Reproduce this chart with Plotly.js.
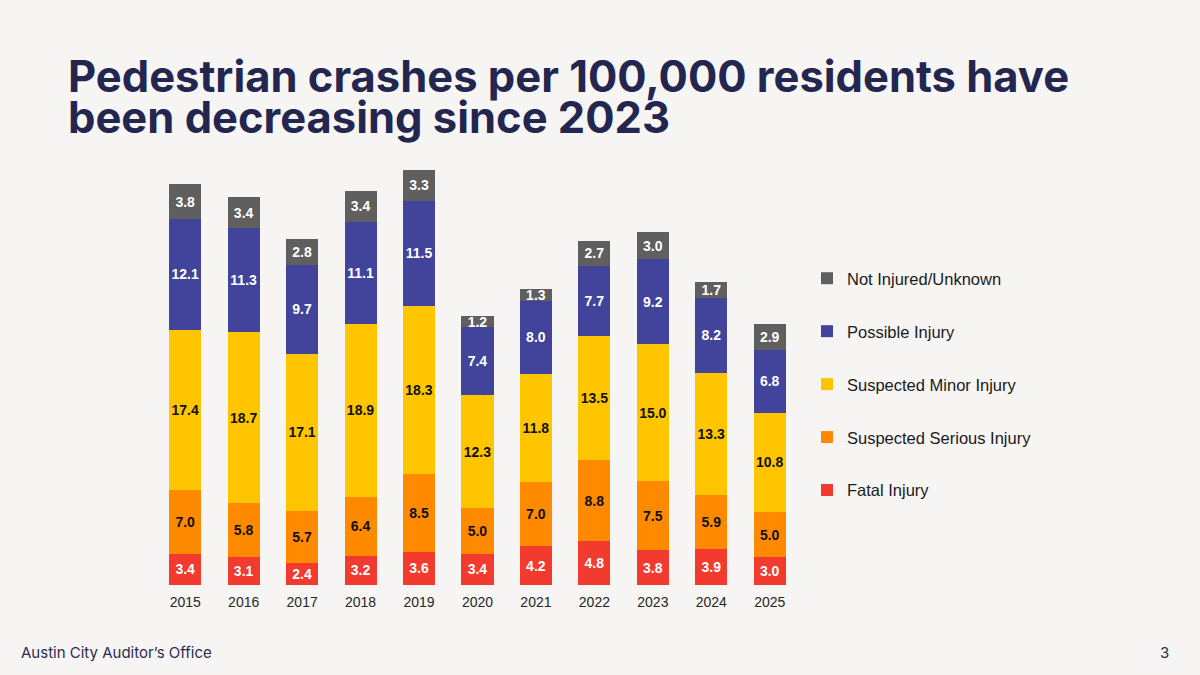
<!DOCTYPE html>
<html>
<head>
<meta charset="utf-8">
<script src="https://cdn.plot.ly/plotly-3.0.1.min.js"></script>
<style>
  html, body { margin: 0; padding: 0; background: #f7f5f3; }
  #chart { width: 1200px; height: 675px; }
</style>
</head>
<body>
<div id="chart"></div>
<script>
// years on the x axis
const years = ["2015","2016","2017","2018","2019","2020","2021","2022","2023","2024","2025"];

// crashes per 100,000 residents, by injury severity (bottom of stack first)
const fatal    = [3.4, 3.1, 2.4, 3.2, 3.6, 3.4, 4.2, 4.8, 3.8, 3.9, 3.0];
const serious  = [7.0, 5.8, 5.7, 6.4, 8.5, 5.0, 7.0, 8.8, 7.5, 5.9, 5.0];
const minor    = [17.4, 18.7, 17.1, 18.9, 18.3, 12.3, 11.8, 13.5, 15.0, 13.3, 10.8];
const possible = [12.1, 11.3, 9.7, 11.1, 11.5, 7.4, 8.0, 7.7, 9.2, 8.2, 6.8];
const unknown  = [3.8, 3.4, 2.8, 3.4, 3.3, 1.2, 1.3, 2.7, 3.0, 1.7, 2.9];

const seriesNames = ["Fatal Injury", "Suspected Serious Injury", "Suspected Minor Injury", "Possible Injury", "Not Injured/Unknown"];
const seriesVals = [fatal, serious, minor, possible, unknown];
const colors = ["#f23b2e", "#ff8a00", "#ffc600", "#41449a", "#5f5f5f"];
const labelColors = ["#ffffff", "#111111", "#111111", "#ffffff", "#ffffff"];

const ARIAL = "Arial, Liberation Sans, sans-serif";

const traces = seriesVals.map(function (vals, i) {
  return {
    type: "bar",
    name: seriesNames[i],
    x: years,
    y: vals,
    legendgroup: "g" + i,
    legendrank: 10 - i,   // top of the stack first in the legend
    marker: { color: colors[i], line: { width: 0 } },
    text: vals.map(v => v.toFixed(1)),
    texttemplate: "%{text}",
    textposition: "inside",
    insidetextanchor: "middle",
    textangle: 0,
    constraintext: "none",
    textfont: { family: ARIAL, size: 14, color: labelColors[i], weight: "bold" },
    hoverinfo: "x+y+name"
  };
});

// plot area in pixels
const L = 156, R = 799, T = 163, B = 585;
const px = x => (x - L) / (R - L);
const py = y => (B - y) / (B - T);

const layout = {
  width: 1200,
  height: 675,
  paper_bgcolor: "#f7f5f3",
  plot_bgcolor: "#f7f5f3",
  margin: { l: L, r: 1200 - R, t: T, b: 675 - B, pad: 0 },
  barmode: "stack",
  bargap: 0.45,
  uniformtext: { mode: "show", minsize: 14 },
  xaxis: {
    type: "category",
    range: [-0.5, 10.5],
    showgrid: false, zeroline: false, showline: false,
    ticks: "outside", ticklen: 4, tickcolor: "rgba(0,0,0,0)",
    tickfont: { family: ARIAL, size: 14, color: "#262626" }
  },
  yaxis: {
    range: [0, 46],
    visible: false, showgrid: false, zeroline: false
  },
  showlegend: true,
  legend: {
    x: px(807), y: py(261), xanchor: "left", yanchor: "top",
    traceorder: "grouped",
    tracegroupgap: 28.5,
    bgcolor: "rgba(0,0,0,0)",
    itemwidth: 30,
    font: { family: ARIAL, size: 16.5, color: "#1a1a1a" }
  },
  annotations: [
    { text: "Pedestrian crashes per 100,000 residents have", xref: "paper", yref: "paper",
      x: px(66), y: py(76), xanchor: "left", yanchor: "middle", showarrow: false,
      font: { family: "Inter, sans-serif", size: 43.5, color: "#23264f", weight: 700 } },
    { text: "been decreasing since 2023", xref: "paper", yref: "paper",
      x: px(66), y: py(117), xanchor: "left", yanchor: "middle", showarrow: false,
      font: { family: "Inter, sans-serif", size: 43.5, color: "#23264f", weight: 700 } },
    { text: "Austin City Auditor\u2019s Office", xref: "paper", yref: "paper",
      x: px(19), y: py(652), xanchor: "left", yanchor: "middle", showarrow: false,
      font: { family: "Inter, sans-serif", size: 15, color: "#2b2d4f" } },
    { text: "3", xref: "paper", yref: "paper",
      x: px(1171), y: py(652), xanchor: "right", yanchor: "middle", showarrow: false,
      font: { family: "Inter, sans-serif", size: 15, color: "#2b2d4f" } }
  ]
};

Plotly.newPlot("chart", traces, layout, { displayModeBar: false, staticPlot: true });
</script>
</body>
</html>
